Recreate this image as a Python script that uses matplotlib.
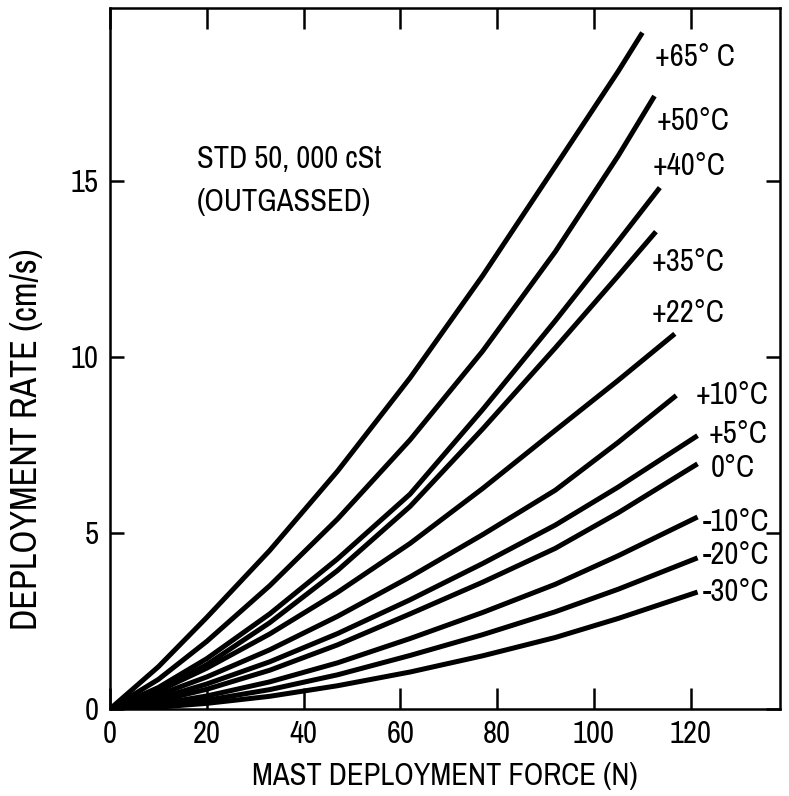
import matplotlib
matplotlib.use('Agg')
import matplotlib.pyplot as plt
from matplotlib import font_manager

# the original lettering is a narrow sans; use one if the box has it
narrow = sorted({f.name for f in font_manager.fontManager.ttflist
                 if 'Narrow' in f.name or 'Condensed' in f.name})
plt.rcParams['font.family'] = narrow[:1] + ['DejaVu Sans']
if narrow:
    plt.rcParams['font.stretch'] = 'condensed'

# mast deployment force (N) sample positions and rates (cm/s)
x_common = [0, 10, 20, 33, 47, 62, 77, 92, 105]

curves = {
    '+65° C': ([*x_common, 110.0], [0, 1.2, 2.6, 4.5, 6.75, 9.4, 12.3, 15.4, 18.1, 19.2]),
    '+50°C': ([*x_common, 112.5], [0, 0.84, 1.92, 3.5, 5.39, 7.64, 10.16, 12.98, 15.7, 17.4]),
    '+40°C': ([*x_common, 113.6], [0, 0.61, 1.43, 2.7, 4.26, 6.1, 8.5, 11.02, 13.28, 14.8]),
    '+35°C': ([*x_common, 112.8], [0, 0.52, 1.26, 2.45, 3.93, 5.75, 7.95, 10.25, 12.3, 13.55]),
    '+22°C': ([*x_common, 116.7], [0, 0.51, 1.16, 2.13, 3.31, 4.7, 6.26, 7.91, 9.33, 10.65]),
    '+10°C': ([*x_common, 117.0], [0, 0.40, 0.91, 1.68, 2.63, 3.75, 4.95, 6.21, 7.57, 8.9]),
    '+5°C': ([*x_common, 121.4], [0, 0.30, 0.71, 1.34, 2.14, 3.1, 4.13, 5.22, 6.30, 7.76]),
    '0°C': ([*x_common, 121.4], [0, 0.23, 0.56, 1.1, 1.82, 2.7, 3.6, 4.56, 5.57, 6.96]),
    '-10°C': ([*x_common, 121.4], [0, 0.145, 0.37, 0.77, 1.31, 2.0, 2.74, 3.54, 4.35, 5.45]),
    '-20°C': ([*x_common, 121.4], [0, 0.09, 0.25, 0.55, 0.97, 1.52, 2.11, 2.76, 3.4, 4.29]),
    '-30°C': ([*x_common, 121.4], [0, 0.053, 0.16, 0.36, 0.66, 1.05, 1.51, 2.03, 2.57, 3.32]),
}

# label anchor (left edge, vertical centre) in data units
label_pos = {
    '+65° C': (112.6, 18.5),
    '+50°C': (113.0, 16.7),
    '+40°C': (112.2, 15.4),
    '+35°C': (112.0, 12.7),
    '+22°C': (112.0, 11.25),
    '+10°C': (120.9, 8.9),
    '+5°C': (123.6, 7.8),
    '0°C': (124.2, 6.85),
    '-10°C': (122.5, 5.3),
    '-20°C': (122.5, 4.37),
    '-30°C': (122.5, 3.32),
}

x_ticks = [0, 20, 40, 60, 80, 100, 120]
y_ticks = [0, 5, 10, 15]

fs = 22 if narrow else 19

fig = plt.figure(figsize=(7.89, 7.96), dpi=100)
ax = fig.add_axes([0.1394, 0.1093, 0.849, 0.8807])

for name, (xs, ys) in curves.items():
    ax.plot(xs, ys, color='black', linewidth=3.6, solid_capstyle='butt', solid_joinstyle='round')
    lx, ly = label_pos[name]
    ax.text(lx, ly, name, fontsize=fs, ha='left', va='center')

ax.text(18, 15.6, 'STD 50, 000 cSt', fontsize=fs, ha='left', va='center')
ax.text(18, 14.4, '(OUTGASSED)', fontsize=fs, ha='left', va='center')

ax.set_xlim(0, 138.4)
ax.set_ylim(0, 19.9)
ax.set_xticks(x_ticks)
ax.set_yticks(y_ticks)
ax.tick_params(direction='in', length=15, width=1.8, labelsize=fs,
               top=True, right=True, pad=8)
ax.tick_params(axis='y', which='major', left=True, length=10)
for s in ax.spines.values():
    s.set_linewidth(1.8)

ax.set_xlabel('MAST DEPLOYMENT FORCE (N)', fontsize=fs, labelpad=10)
ax.set_ylabel('DEPLOYMENT RATE (cm/s)', fontsize=fs + 4)
ax.yaxis.set_label_coords(-0.10, 0.385)

fig.savefig('out.png', dpi=100)
